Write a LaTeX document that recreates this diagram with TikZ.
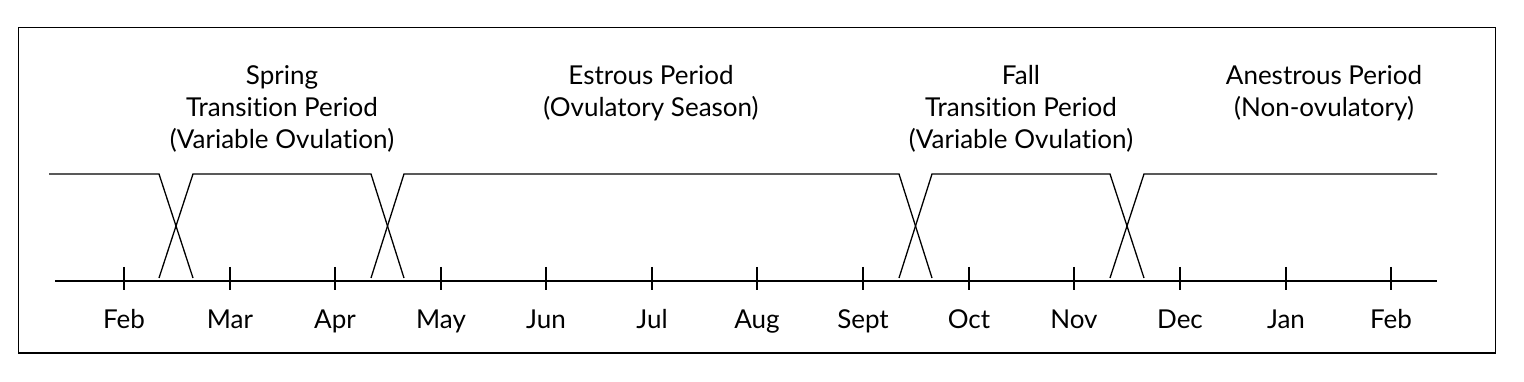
\documentclass[tikz,border=0pt]{standalone}
\usepackage{fontspec}
\setmainfont{Lato}[Ligatures=NoCommon]
\begin{document}
\begin{tikzpicture}[x=1pt,y=-1pt,
  lbl/.style={font=\fontsize{26}{32}\selectfont, align=center, inner sep=0pt, anchor=base},
  mon/.style={font=\fontsize{26}{30}\selectfont, inner sep=0pt, anchor=base},
  ln/.style={line width=1.3pt, black}]
\useasboundingbox (0,0) rectangle (1524,382);
\draw[line width=1.3pt] (18.5,27.5) rectangle (1495.5,353);
% axis
\coordinate (axL) at (55,281);
\coordinate (axR) at (1437,281);
\draw[ln] (axL) -- (axR);
\foreach \x/\m [count=\i] in {124/Feb,230/Mar,335/Apr,441/May,546/Jun,652/Jul,757/Aug,863/Sept,969/Oct,1074/Nov,1180/Dec,1286/Jan,1391/Feb}{
  \draw[ln] (\x,267) -- (\x,290);
  \node[mon] (m\i) at (\x,328) {\m};
}
% top line with crossings
\coordinate (t0) at (49,174);
\coordinate (t1) at (1437,174);
\draw[ln] (t0) -- (159,174) -- (193,278);
\draw[ln] (159,278) -- (193,174) -- (371,174) -- (404,278);
\draw[ln] (371,278) -- (404,174) -- (899,174) -- (932,278);
\draw[ln] (899,278) -- (932,174) -- (1110,174) -- (1144,278);
\draw[ln] (1110,278) -- (1144,174) -- (t1);
% labels
\node[lbl] (spring) at (282,149) {Spring\\Transition Period\\(Variable Ovulation)};
\node[lbl] (estrous) at (651,117) {Estrous Period\\(Ovulatory Season)};
\node[lbl] (fall) at (1021,149) {Fall\\Transition Period\\(Variable Ovulation)};
\node[lbl] (anes) at (1324,117) {Anestrous Period\\(Non-ovulatory)};
\end{tikzpicture}
\end{document}
